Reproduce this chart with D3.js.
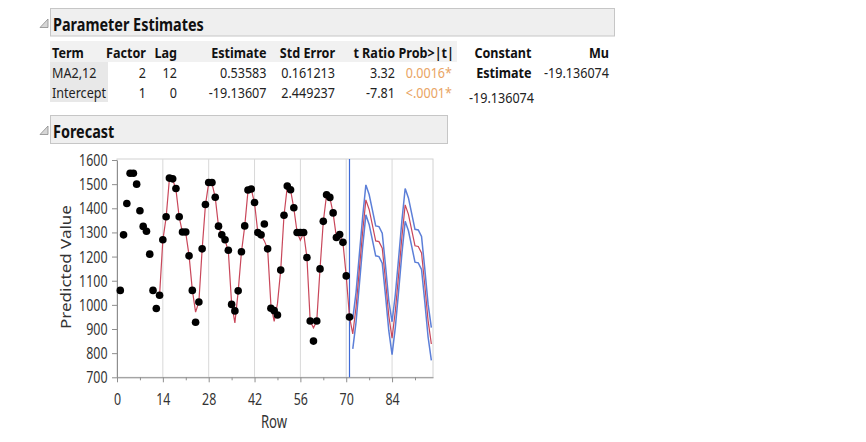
<!DOCTYPE html>
<html>
<head>
<meta charset="utf-8">
<script src="https://cdn.jsdelivr.net/npm/d3@7"></script>
<style>
  body { margin: 0; background: #fff; }
  svg { display: block; }
  text { font-family: "Noto Sans", "Open Sans", sans-serif; }
</style>
</head>
<body>
<svg id="chart"></svg>
<script>
// parameter estimates table
var terms = ["MA2,12", "Intercept"];
var factors = ["2", "1"];
var lags = ["12", "0"];
var estimates = ["0.53583", "-19.13607"];
var stdErrors = ["0.161213", "2.449237"];
var tRatios = ["3.32", "-7.81"];
var probs = ["0.0016*", "<.0001*"];
var constantEstimate = "-19.136074";
var muValue = "-19.136074";

// series: actual rows start at 1, fitted at 13, forecast at 72
var firstRow = 1;
var firstFitRow = 13;
var firstForecastRow = 72;
var lastObsRow = 71;

var actual = [1060, 1290, 1420, 1545, 1545, 1500, 1390, 1325, 1305, 1210, 1060, 985,
  1040, 1270, 1365, 1525, 1522, 1482, 1365, 1302, 1302, 1203, 1060, 928,
  1012, 1232, 1416, 1507, 1507, 1446, 1326, 1290, 1270, 1226, 1002, 975,
  1058, 1220, 1327, 1476, 1480, 1424, 1300, 1290, 1335, 1232, 986, 976,
  958, 1144, 1371, 1492, 1477, 1402, 1300, 1300, 1300, 1196, 933, 850,
  933, 1149, 1346, 1456, 1445, 1381, 1279, 1291, 1259, 1120, 950];

var fitted = [1040, 1268, 1362, 1522, 1520, 1478, 1362, 1300, 1298, 1205, 1062, 970,
  1012, 1230, 1412, 1505, 1503, 1445, 1325, 1288, 1268, 1222, 1005, 925,
  1055, 1218, 1325, 1472, 1478, 1422, 1300, 1290, 1265, 1232, 1000, 932,
  1005, 1145, 1370, 1490, 1476, 1400, 1300, 1268, 1298, 1196, 933, 905,
  933, 1149, 1345, 1455, 1444, 1380, 1280, 1288, 1258, 1120, 950];

var forecast = [880, 990, 1145, 1300, 1435, 1395, 1330, 1265, 1262, 1235, 1100, 955,
  862, 975, 1125, 1280, 1414, 1375, 1310, 1245, 1242, 1215, 1080, 935, 838];
var upper = [942, 1052, 1207, 1362, 1497, 1457, 1392, 1327, 1324, 1297, 1162, 1017,
  930, 1043, 1193, 1348, 1482, 1443, 1378, 1313, 1310, 1283, 1148, 1003, 906];
var lower = [818, 928, 1083, 1238, 1373, 1333, 1268, 1203, 1200, 1173, 1038, 893,
  794, 907, 1057, 1212, 1346, 1307, 1242, 1177, 1174, 1147, 1012, 867, 770];

var xTicks = [0, 14, 28, 42, 56, 70, 84];
var xMinorTicks = [7, 21, 35, 49, 63, 77, 91];
var yTicks = [700, 800, 900, 1000, 1100, 1200, 1300, 1400, 1500, 1600];

var svgWidth = 866;
var svgHeight = 442;
var squeeze = 0.73;
var tableFont = "'Liberation Sans', Arial, sans-serif";

var svg = d3.select("#chart")
  .attr("width", svgWidth)
  .attr("height", svgHeight);

function label(x, y, s, size, anchor, weight, fill, sx) {
  return svg.append("text")
    .attr("transform", `translate(${x},${y}) scale(${sx || squeeze},1)`)
    .attr("text-anchor", anchor)
    .attr("font-size", size)
    .attr("font-weight", weight || "normal")
    .attr("fill", fill || "#222")
    .text(s);
}

function cell(x, y, s, anchor, weight, fill) {
  return label(x, y, s, 14, anchor, weight, fill, 0.9)
    .attr("font-family", tableFont);
}

function outlineHeader(x, y, w, h, title) {
  svg.append("rect")
    .attr("x", x + 0.5).attr("y", y + 0.5)
    .attr("width", w).attr("height", h)
    .attr("fill", "#efefef")
    .attr("stroke", "#c6c6c6");
  // disclosure triangle
  svg.append("path")
    .attr("d", `M${x - 2},${y + 19.5} L${x - 10},${y + 19.5} L${x - 2},${y + 11} Z`)
    .attr("fill", "#d6d6d6")
    .attr("stroke", "#8c8c8c")
    .attr("stroke-width", 0.8);
  label(x + 3, y + 22.5, title, 18.5, "start", "bold", "#111", 0.78);
}

// ---- Parameter Estimates ----
outlineHeader(50, 8, 564, 27.5, "Parameter Estimates");

svg.append("rect")
  .attr("x", 50).attr("y", 41).attr("width", 407).attr("height", 21)
  .attr("fill", "#f1f1f1");
svg.append("rect")
  .attr("x", 50).attr("y", 62).attr("width", 58).attr("height", 40)
  .attr("fill", "#e8e8e8");

var headY = 57.5, rowY = [78, 98];
cell(52, headY, "Term", "start", "bold", "#111");
cell(146, headY, "Factor", "end", "bold", "#111");
cell(177, headY, "Lag", "end", "bold", "#111");
cell(266.5, headY, "Estimate", "end", "bold", "#111");
cell(335, headY, "Std Error", "end", "bold", "#111");
cell(395, headY, "t Ratio", "end", "bold", "#111");
cell(454, headY, "Prob>|t|", "end", "bold", "#111");
cell(531.5, headY, "Constant", "end", "bold", "#111");
cell(609, headY, "Mu", "end", "bold", "#111");

terms.forEach(function (t, i) {
  cell(52, rowY[i], t, "start");
  cell(146, rowY[i], factors[i], "end");
  cell(177, rowY[i], lags[i], "end");
  cell(266.5, rowY[i], estimates[i], "end");
  cell(335, rowY[i], stdErrors[i], "end");
  cell(395, rowY[i], tRatios[i], "end");
  cell(452, rowY[i], probs[i], "end", "normal", "#e9a464");
});
cell(531.5, rowY[0], "Estimate", "end", "bold", "#111");
cell(609, rowY[0], muValue, "end");
cell(534, 103, constantEstimate, "end");

// ---- Forecast ----
outlineHeader(50, 115, 397, 28, "Forecast");

var xScale = d3.scaleLinear().domain([0, 96.5]).range([117, 433]);
var yScale = d3.scaleLinear().domain([700, 1600]).range([377.3, 160]);
var plotTop = 159;

svg.append("rect")
  .attr("x", xScale(0)).attr("y", plotTop)
  .attr("width", xScale(96.5) - xScale(0))
  .attr("height", yScale(700) - plotTop)
  .attr("fill", "#fff")
  .attr("stroke", "#d2d2d2");

svg.append("g").selectAll("line")
  .data(xTicks.slice(1))
  .enter()
  .append("line")
  .attr("x1", d => xScale(d)).attr("x2", d => xScale(d))
  .attr("y1", plotTop).attr("y2", yScale(700))
  .attr("stroke", "#d8d8d8");

var xAxis = svg.append("g")
  .attr("transform", `translate(0, ${yScale(700)})`)
  .call(d3.axisBottom(xScale).tickValues(xTicks).tickSize(5).tickSizeOuter(0).tickPadding(11));
svg.append("g")
  .attr("transform", `translate(0, ${yScale(700)})`)
  .call(d3.axisBottom(xScale).tickValues(xMinorTicks).tickSize(3).tickSizeOuter(0).tickFormat(""))
  .select(".domain").remove();
var yAxis = svg.append("g")
  .attr("transform", `translate(${xScale(0)}, 0)`)
  .call(d3.axisLeft(yScale).tickValues(yTicks).tickFormat(d3.format("d"))
    .tickSize(5).tickSizeOuter(0).tickPadding(4));

[xAxis, yAxis].forEach(function (ax) {
  ax.selectAll(".domain").attr("stroke", "#8e8e8e");
  ax.selectAll("text")
    .attr("font-size", 17)
    .attr("fill", "#333")
    .attr("font-family", "'Noto Sans', sans-serif");
});
svg.selectAll(".tick line").attr("stroke", "#8e8e8e");
xAxis.selectAll("text").attr("transform", `scale(${squeeze},1)`);
yAxis.selectAll("text").attr("x", -9.5 / squeeze).attr("transform", `scale(${squeeze},1)`);

svg.append("text")
  .attr("transform", `translate(71, 267) scale(0.8,1) rotate(-90)`)
  .attr("text-anchor", "middle")
  .attr("font-size", 17)
  .attr("fill", "#333")
  .text("Predicted Value");
label(274, 428, "Row", 18, "middle", "normal", "#333");

// forecast origin
svg.append("line")
  .attr("x1", xScale(lastObsRow)).attr("x2", xScale(lastObsRow))
  .attr("y1", plotTop).attr("y2", yScale(700))
  .attr("stroke", "#3f6ad6")
  .attr("stroke-width", 1.2);

var fcLine = d3.line()
  .x((d, i) => xScale(firstForecastRow + i))
  .y(d => yScale(d));

[upper, lower].forEach(function (band) {
  svg.append("path")
    .datum(band)
    .attr("d", fcLine)
    .attr("fill", "none")
    .attr("stroke", "#5c7fd8")
    .attr("stroke-width", 1.5);
});

var predicted = fitted.concat(forecast);
svg.append("path")
  .datum(predicted)
  .attr("d", d3.line().x((d, i) => xScale(firstFitRow + i)).y(d => yScale(d)))
  .attr("fill", "none")
  .attr("stroke", "#c9475a")
  .attr("stroke-width", 1.2);

svg.append("g").selectAll("circle")
  .data(actual)
  .enter()
  .append("circle")
  .attr("cx", (d, i) => xScale(firstRow + i))
  .attr("cy", d => yScale(d))
  .attr("r", 3.8)
  .attr("fill", "#000");
</script>
</body>
</html>
